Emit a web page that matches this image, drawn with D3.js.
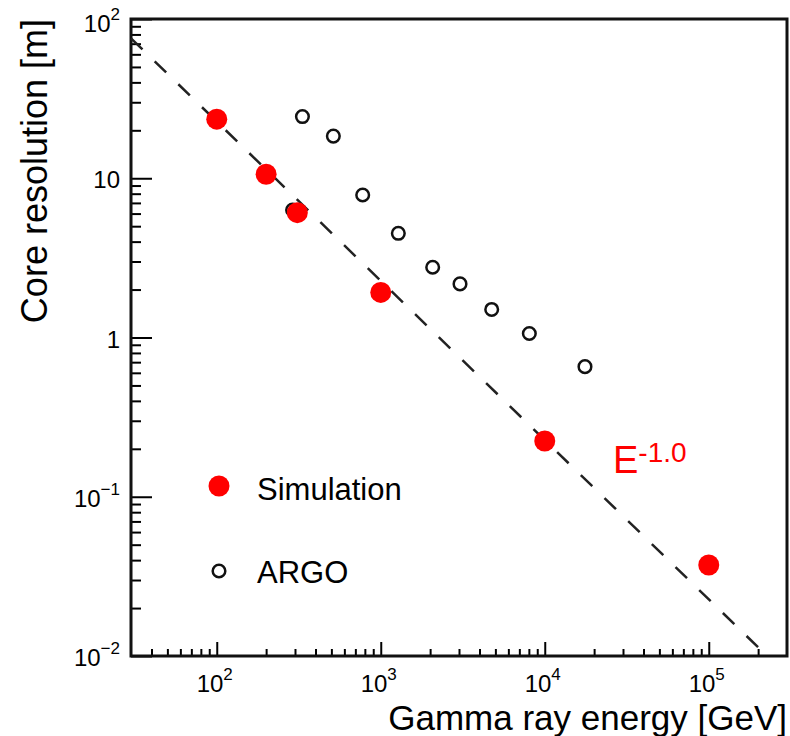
<!DOCTYPE html>
<html>
<head>
<meta charset="utf-8">
<script src="https://cdn.jsdelivr.net/npm/d3@7"></script>
<style>
  body { margin: 0; background: #fff; }
  text { font-family: "Liberation Sans", Arial, Helvetica, sans-serif; }
</style>
</head>
<body>
<div class="container"></div>
<script>
// Data
const simEnergy = [100, 200, 310, 1000, 10000, 100000];
const simRes = [23.5, 10.6, 6.08, 1.92, 0.224, 0.0373];
const argoEnergy = [290, 333, 514, 776, 1280, 2073, 3043, 4748, 8054, 17590];
const argoRes = [6.32, 24.4, 18.4, 7.85, 4.51, 2.76, 2.17, 1.50, 1.06, 0.656];
const xMajor = [100, 1000, 10000, 100000];
const xMajorExp = ["2", "3", "4", "5"];
const yMajor = [100, 10, 1, 0.1, 0.01];
const yMajorLabel = [["10", "2"], ["10", ""], ["1", ""], ["10", "\u22121"], ["10", "\u22122"]];
const lineNorm = 2270;      // E^-1.0 reference line: res = lineNorm / E
const lineEnergy = [30, 227000];

// Define the dimensions
const w = 790;
const h = 736;
const padLeft = 131, padRight = 787, padTop = 19, padBottom = 656;

// Create scales
const xScale = d3.scaleLog().domain([30, 3e5]).range([padLeft, padRight]);
const yScale = d3.scaleLog().domain([0.01, 100]).range([padBottom, padTop]);

// minor ticks 2..9 in every decade inside the domain
const minorTicks = (lo, hi) => {
  const out = [];
  for (let p = Math.floor(Math.log10(lo)); p <= Math.ceil(Math.log10(hi)); p++) {
    for (let k = 2; k <= 9; k++) {
      const v = k * Math.pow(10, p);
      if (v > lo * 1.0001 && v < hi * 0.9999) out.push(v);
    }
  }
  return out;
};

// Create SVG container
const svg = d3.select(".container")
       .append("svg")
       .attr("width", w)
       .attr("height", h);

// Axes (ticks pointing inward)
const xMinorAxis = d3.axisBottom(xScale).tickValues(minorTicks(30, 3e5)).tickSize(-7).tickSizeOuter(0).tickFormat("");
const xMajorAxis = d3.axisBottom(xScale).tickValues(xMajor).tickSize(-14).tickSizeOuter(0).tickFormat("");
const yMinorAxis = d3.axisLeft(yScale).tickValues(minorTicks(0.01, 100)).tickSize(-10).tickSizeOuter(0).tickFormat("");
const yMajorAxis = d3.axisLeft(yScale).tickValues(yMajor).tickSize(-21).tickSizeOuter(0).tickFormat("");

[[xMinorAxis, `translate(0,${padBottom})`], [xMajorAxis, `translate(0,${padBottom})`],
 [yMinorAxis, `translate(${padLeft},0)`], [yMajorAxis, `translate(${padLeft},0)`]].forEach(([ax, tr]) => {
  const g = svg.append("g").attr("transform", tr).call(ax);
  g.select(".domain").remove();
  g.selectAll(".tick line").attr("stroke", "#000").attr("stroke-width", 2);
});

// Frame
svg.append("rect")
    .attr("x", padLeft)
    .attr("y", padTop)
    .attr("width", padRight - padLeft)
    .attr("height", padBottom - padTop)
    .attr("fill", "none")
    .attr("stroke", "#111")
    .attr("stroke-width", 3);

// X tick labels
const xLab = svg.selectAll(".xlab")
    .data(xMajor)
    .enter()
    .append("text")
    .attr("class", "xlab")
    .attr("x", d => xScale(d) - 2)
    .attr("y", 692)
    .attr("text-anchor", "middle")
    .style("font-size", "24px")
    .attr("fill", "#000");
xLab.append("tspan").text("10");
xLab.append("tspan").attr("dy", -12).style("font-size", "17px").text((d, i) => xMajorExp[i]);

// Y tick labels
const yLab = svg.selectAll(".ylab")
    .data(yMajor)
    .enter()
    .append("text")
    .attr("class", "ylab")
    .attr("x", 120)
    .attr("y", (d, i) => yScale(d) + (i === 0 ? 13 : 10))
    .attr("text-anchor", "end")
    .style("font-size", "24px")
    .attr("fill", "#000");
yLab.append("tspan").text((d, i) => yMajorLabel[i][0]);
yLab.append("tspan").attr("dy", -12).style("font-size", "17px").text((d, i) => yMajorLabel[i][1]);

// Reference line E^-1.0
const line = d3.line()
    .x(d => xScale(d))
    .y(d => yScale(lineNorm / d));
svg.append("path")
    .datum(lineEnergy)
    .attr("d", line)
    .attr("fill", "none")
    .attr("stroke", "#222")
    .attr("stroke-width", 2.5)
    .attr("stroke-dasharray", "16,17");

// ARGO points (open circles)
svg.selectAll(".argo")
    .data(argoEnergy)
    .enter()
    .append("circle")
    .attr("class", "argo")
    .attr("cx", d => xScale(d))
    .attr("cy", (d, i) => yScale(argoRes[i]))
    .attr("r", 6.3)
    .attr("fill", "none")
    .attr("stroke", "#111")
    .attr("stroke-width", 2.5);

// Simulation points (red)
svg.selectAll(".sim")
    .data(simEnergy)
    .enter()
    .append("circle")
    .attr("class", "sim")
    .attr("cx", d => xScale(d))
    .attr("cy", (d, i) => yScale(simRes[i]))
    .attr("r", 10.5)
    .attr("fill", "#ff0000");

// Legend
svg.append("circle").attr("cx", 219).attr("cy", 486).attr("r", 10.5).attr("fill", "#ff0000");
svg.append("text").attr("x", 257).attr("y", 500).style("font-size", "31px").text("Simulation");
svg.append("circle").attr("cx", 219).attr("cy", 571).attr("r", 6.3)
    .attr("fill", "none").attr("stroke", "#111").attr("stroke-width", 2.5);
svg.append("text").attr("x", 257).attr("y", 583).style("font-size", "31px").text("ARGO");

// Power-law label
const eLab = svg.append("text")
    .attr("x", 613)
    .attr("y", 473)
    .attr("fill", "#ff0000")
    .style("font-size", "38px");
eLab.append("tspan").text("E");
eLab.append("tspan").attr("dy", -11).style("font-size", "28px").text("-1.0");

// Axis titles
svg.append("text")
    .attr("x", padRight)
    .attr("y", 730)
    .attr("text-anchor", "end")
    .style("font-size", "35px")
    .text("Gamma ray energy [GeV]");

svg.append("text")
    .attr("transform", "rotate(-90)")
    .attr("x", -padTop)
    .attr("y", 47)
    .attr("text-anchor", "end")
    .style("font-size", "36px")
    .text("Core resolution [m]");
</script>
</body>
</html>
